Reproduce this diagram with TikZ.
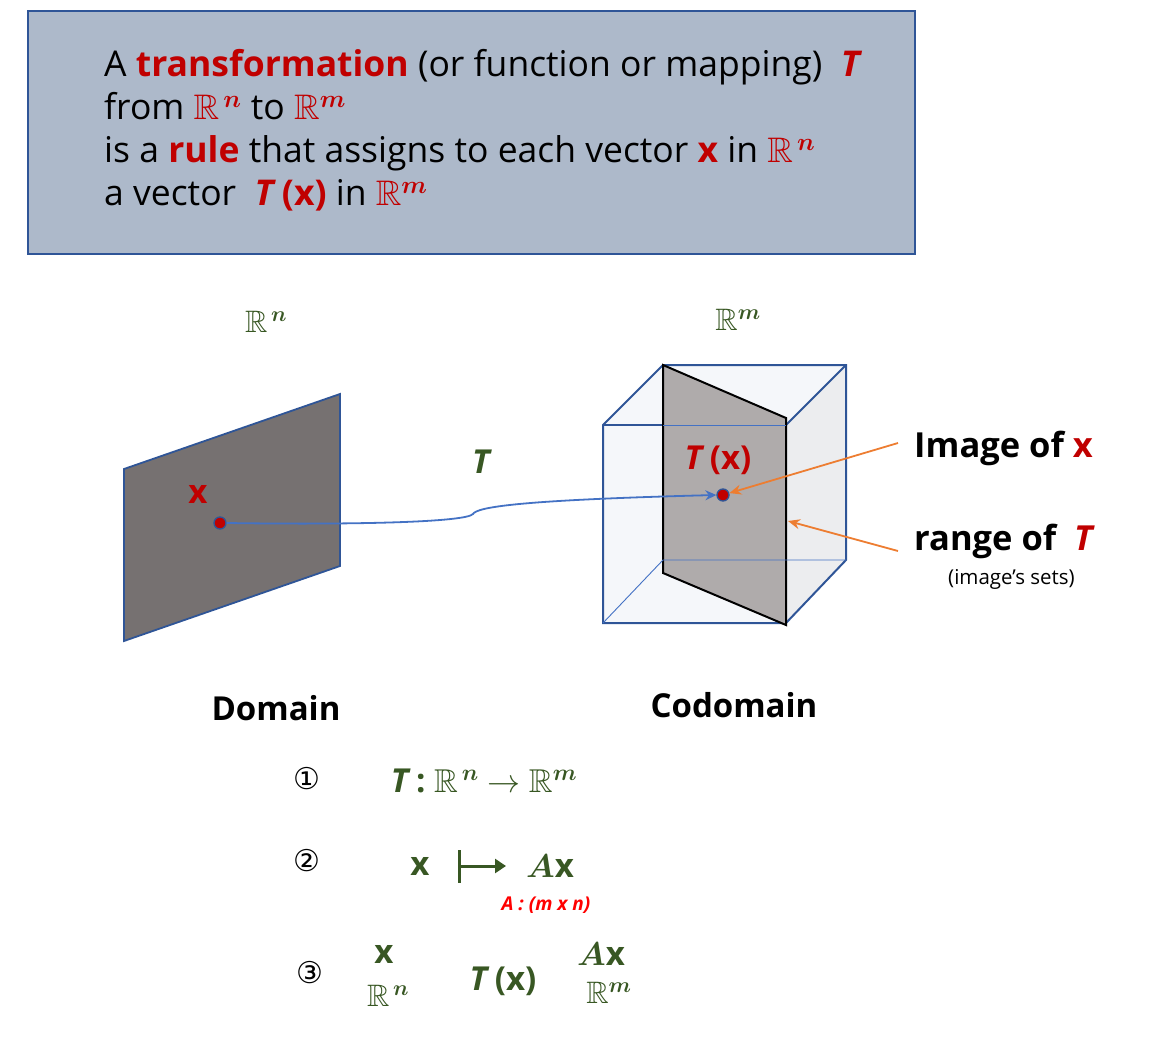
\RequirePackage{fix-cm}
\documentclass[tikz,border=0pt]{standalone}
\usepackage{amsmath,amssymb}
\usepackage{fontspec}
\setmainfont{Open Sans}
\newfontfamily\symbfont{DejaVu Sans}
\usetikzlibrary{arrows.meta,positioning,calc}

\definecolor{boxfill}{HTML}{ADB9CA}
\definecolor{boxdraw}{HTML}{2F5597}
\definecolor{defred}{HTML}{C00000}
\definecolor{brightred}{HTML}{FF0000}
\definecolor{mapgreen}{HTML}{385723}
\definecolor{domgray}{HTML}{767171}
\definecolor{codgray}{HTML}{AFABAB}
\definecolor{arrowblue}{HTML}{4472C4}
\definecolor{calloutorange}{HTML}{ED7D31}
\definecolor{cubetop}{HTML}{F5F7FA}
\definecolor{cubeside}{HTML}{ECEDEF}
\definecolor{cubefront}{HTML}{F5F7FA}

\newcommand{\Rspn}{\ensuremath{\mathbb{R}^{\,\boldsymbol{n}}}}
\newcommand{\Rspm}{\ensuremath{\mathbb{R}^{\boldsymbol{m}}}}

\tikzset{
  deftext/.style={anchor=base west, inner sep=0pt, font=\fontsize{35.5}{40}\selectfont},
  spacelbl/.style={text=mapgreen, font=\fontsize{31}{34}\selectfont},
  sidelbl/.style={anchor=base west, inner sep=0pt, font=\fontsize{34.5}{40}\selectfont\bfseries},
  setname/.style={font=\fontsize{33}{40}\selectfont\bfseries},
  pointdot/.style={circle, fill=defred, draw=boxdraw, line width=1.3pt, inner sep=0pt, minimum size=12pt},
  cubeedge/.style={draw=boxdraw, line width=2pt},
  hiddenedge/.style={draw=arrowblue, line width=0.9pt},
  callout/.style={draw=calloutorange, line width=1.8pt, -{Stealth[length=12pt,width=10pt]}},
  maparrow/.style={draw=arrowblue, line width=1.8pt, -{Stealth[length=11pt,width=10pt]}},
  stepnum/.style={font=\fontsize{30}{34}\symbfont},
  formula/.style={text=mapgreen, font=\fontsize{33}{38}\selectfont\bfseries}
}

\begin{document}
\begin{tikzpicture}[x=1pt,y=-1pt]
  \useasboundingbox (0,0) rectangle (1173,1051);

  % definition box
  \draw[fill=boxfill, draw=boxdraw, line width=2pt] (28,11) rectangle (915,254);
  \node[deftext] (defa) at (104,77) {A \textcolor{defred}{\textbf{transformation}} (or function or mapping)\ \ \textcolor{defred}{\textbf{\textit{T}}}};
  \node[deftext] (defb) at (104,120) {from \textcolor{defred}{\Rspn} to \textcolor{defred}{\Rspm}};
  \node[deftext] (defc) at (104,163) {is a \textcolor{defred}{\textbf{rule}} that assigns to each vector \textcolor{defred}{\textbf{x}} in \textcolor{defred}{\Rspn}};
  \node[deftext] (defd) at (104,206) {a vector\ \ \textcolor{defred}{\textbf{\textit{T}\,(x)}} in \textcolor{defred}{\Rspm}};

  % spaces
  \node[spacelbl] (rnlbl) at (266,322) {\Rspn};
  \node[spacelbl] (rmlbl) at (738,320) {\Rspm};

  % domain plane
  \draw[fill=domgray, draw=boxdraw, line width=1.8pt] (124,469) -- (340,394) -- (340,566) -- (124,641) -- cycle;
  \node[pointdot] (xdot) at (220,523) {};
  \node[text=defred, font=\fontsize{33}{36}\selectfont\bfseries] (xlbl) at (198,494) {x};

  % codomain cube
  \fill[cubetop] (603,425) -- (663,365) -- (846,365) -- (786,425) -- cycle;
  \fill[cubeside] (786,425) -- (846,365) -- (846,560) -- (786,623) -- cycle;
  \fill[cubefront] (603,425) rectangle (786,623);
  \draw[cubeedge] (603,623) -- (603,425) -- (663,365) -- (846,365) -- (846,560) -- (786,623) -- cycle;
  \draw[cubeedge] (603,425) -- (663,425);
  \draw[cubeedge] (846,365) -- (786,425);
  \draw[fill=codgray, line width=2pt] (663,365) -- (786,418) -- (786,625) -- (663,573) -- cycle;
  \draw[hiddenedge] (663,425) -- (786,425);
  \draw[hiddenedge] (603,623) -- (663,560) -- (846,560);
  \node[pointdot] (txdot) at (723,495) {};
  \node[text=defred, font=\fontsize{33}{36}\selectfont\bfseries] (txlbl) at (718,460) {\textit{T}\,(x)};

  % mapping T
  \draw[maparrow] (xdot.east) .. controls (360,525) and (466,522) .. (473,514)
    .. controls (477,507) and (520,500) .. (txdot.west);
  \node[text=mapgreen, font=\fontsize{33}{36}\selectfont\bfseries\itshape] (tlbl) at (481,462) {T};

  % callouts
  \node[sidelbl] (imglbl) at (914,457) {Image of \textcolor{defred}{x}};
  \node[sidelbl] (rnglbl) at (914,550) {range of\ \ \textcolor{defred}{\textit{T}}};
  \node[anchor=base west, inner sep=0pt, font=\fontsize{20.5}{24}\selectfont] (setslbl) at (948,584) {(image’s sets)};
  \coordinate (imgtail) at (898,443);
  \coordinate (rngtail) at (898,551);
  \coordinate (rngtip) at (788,521);
  \draw[callout] (imgtail) -- (txdot);
  \draw[callout] (rngtail) -- (rngtip);

  \node[setname] (domlbl) at (276,708) {Domain};
  \node[setname] (codlbl) at (734,705) {Codomain};

  % 1
  \node[stepnum] (stepa) at (307,779) {①};
  \node[formula] (forma) at (484,781) {\textit{T}\,:\ \Rspn\ $\rightarrow$ \Rspm};

  % 2
  \node[stepnum] (stepb) at (307,861) {②};
  \node[formula] (xmap) at (420,866) {x};
  \node[formula] (axmap) at (550,866) {$\boldsymbol{A}$x};
  \coordinate (mapstart) at (458,866);
  \coordinate (mapend) at (506,866);
  \draw[mapgreen, line width=3pt, {Bar[width=33pt]}-{Triangle[length=11pt,width=14pt]}] (mapstart) -- (mapend);
  \node[text=brightred, font=\fontsize{19}{22}\selectfont\bfseries\itshape] (amn) at (546,905) {A : (m x n)};

  % 3
  \node[stepnum] (stepc) at (310,973) {③};
  \node[formula] (xdom) at (384,954) {x};
  \node[formula, font=\fontsize{31}{34}\selectfont] (rdom) at (388,996) {\Rspn};
  \node[formula] (txmid) at (503,981) {\textit{T}\,(x)};
  \node[formula] (axcod) at (601,954) {$\boldsymbol{A}$x};
  \node[formula, font=\fontsize{31}{34}\selectfont] (rcod) at (609,993) {\Rspm};
\end{tikzpicture}
\end{document}
